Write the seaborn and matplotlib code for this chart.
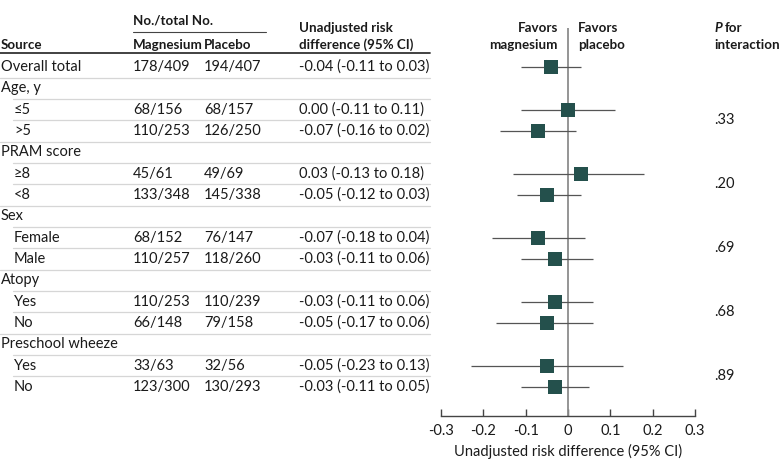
import matplotlib
matplotlib.use("Agg")
import matplotlib.pyplot as plt
import matplotlib.transforms as mtransforms
import seaborn as sns
import pandas as pd
import numpy as np

# ---------------- data ----------------
labels = ["Overall total", "Age, y", "≤5", ">5", "PRAM score", "≥8", "<8",
          "Sex", "Female", "Male", "Atopy", "Yes", "No",
          "Preschool wheeze", "Yes", "No"]
is_sub = [False, False, True, True, False, True, True,
          False, True, True, False, True, True, False, True, True]
magnesium = ["178/409", "", "68/156", "110/253", "", "45/61", "133/348",
             "", "68/152", "110/257", "", "110/253", "66/148", "", "33/63", "123/300"]
placebo = ["194/407", "", "68/157", "126/250", "", "49/69", "145/338",
           "", "76/147", "118/260", "", "110/239", "79/158", "", "32/56", "130/293"]
rd = [-0.04, None, 0.00, -0.07, None, 0.03, -0.05, None, -0.07, -0.03,
      None, -0.03, -0.05, None, -0.05, -0.03]
lo = [-0.11, None, -0.11, -0.16, None, -0.13, -0.12, None, -0.18, -0.11,
      None, -0.11, -0.17, None, -0.23, -0.11]
hi = [0.03, None, 0.11, 0.02, None, 0.18, 0.03, None, 0.04, 0.06,
      None, 0.06, 0.06, None, 0.13, 0.05]
p_values = [".33", ".20", ".69", ".68", ".89"]
p_rows = [2.5, 5.5, 8.5, 11.5, 14.5]
xticks = [-0.3, -0.2, -0.1, 0, 0.1, 0.2, 0.3]
xtick_labels = ["-0.3", "-0.2", "-0.1", "0", "0.1", "0.2", "0.3"]

# ---------------- style ----------------
sns.set_theme(style="white")
plt.rcParams["font.family"] = ["Lato", "DejaVu Sans"]
FS = 10.5
HFS = 9.6
TXT = "#1a1a1a"
MARK = "#24504c"

W, H = 780, 467
fig = plt.figure(figsize=(W / 100, H / 100), dpi=100)

row0_px, row_step = 67.0, 21.33
axis_px = 416.0
top_px = 8.0
ax_left, ax_right = 441.0, 695.0
ax = fig.add_axes([ax_left / W, 1 - axis_px / H, (ax_right - ax_left) / W,
                   (axis_px - top_px) / H])
y_bottom = (axis_px - row0_px) / row_step
y_top = (top_px - row0_px) / row_step
ax.set_ylim(y_bottom, y_top)
ax.set_xlim(-0.3, 0.3)


def prow(px):
    return (px - row0_px) / row_step


rows = np.arange(len(labels))
df = pd.DataFrame({"row": rows, "rd": rd, "lo": lo, "hi": hi}).dropna()

# CI lines
ax.hlines(df["row"], df["lo"], df["hi"], color="#555555", lw=0.9, zorder=2)
# zero line
ax.vlines(0, prow(28), y_bottom, color="#8c8c8c", lw=1.3, zorder=1)
# point estimates
sns.scatterplot(data=df, x="rd", y="row", marker="s", s=105, color=MARK,
                edgecolor=MARK, linewidth=0, ax=ax, zorder=3, legend=False)

# axis styling
for sp in ["top", "right", "left"]:
    ax.spines[sp].set_visible(False)
ax.spines["bottom"].set_color("#444444")
ax.spines["bottom"].set_linewidth(1.0)
ax.set_yticks([])
ax.set_xticks(xticks)
ax.set_xticklabels(xtick_labels)
ax.tick_params(axis="x", direction="in", length=5, width=1.0, color="#444444",
               labelsize=FS, labelcolor=TXT, pad=6, bottom=True)
ax.set_xlabel("Unadjusted risk difference (95% CI)", fontsize=FS, color=TXT, labelpad=4)
ax.set_ylabel("")
ax.patch.set_alpha(0)

trans = mtransforms.blended_transform_factory(fig.transFigure, ax.transData)


def ftext(px, row, s, **kw):
    kw.setdefault("fontsize", FS)
    kw.setdefault("color", TXT)
    kw.setdefault("va", "center")
    ax.text(px / W, row, s, transform=trans, clip_on=False, **kw)


def htext(px, row, s, **kw):
    ftext(px, row, s, fontsize=HFS, fontweight="bold", **kw)


def fline(px0, px1, row, **kw):
    ax.plot([px0 / W, px1 / W], [row, row], transform=trans, clip_on=False, **kw)


# headers
hdr_row = prow(45)
htext(1, hdr_row, "Source")
htext(133, prow(21), "No./total No.")
fline(133, 266, prow(32), color="#444444", lw=0.8)
htext(133, hdr_row, "Magnesium")
htext(204, hdr_row, "Placebo")
htext(299, prow(28), "Unadjusted risk")
htext(299, hdr_row, "difference (95% CI)")
fline(0, 430, prow(53), color="#333333", lw=1.3)

htext(558, prow(28), "Favors", ha="right")
htext(558, prow(45), "magnesium", ha="right")
htext(578, prow(28), "Favors")
htext(578, prow(45), "placebo")
htext(714, prow(28), "P", fontstyle="italic")
htext(725, prow(28), "for")
htext(714, prow(45), "interaction")

# table rows
for i, lab in enumerate(labels):
    ftext(14 if is_sub[i] else 1, i, lab)
    if magnesium[i]:
        ftext(133, i, magnesium[i])
        ftext(204, i, placebo[i])
        ftext(299, i, f"{rd[i]:.2f} ({lo[i]:.2f} to {hi[i]:.2f})")
    if i < len(labels) - 1:
        last_in_group = not is_sub[i + 1]
        start = 0 if (last_in_group or i == 0) else 13
        fline(start, 430, i + 0.5, color="#d6d6d6", lw=0.9)

for r, p in zip(p_rows, p_values):
    ftext(714, r, p)

fig.savefig("out.png", dpi=100)
